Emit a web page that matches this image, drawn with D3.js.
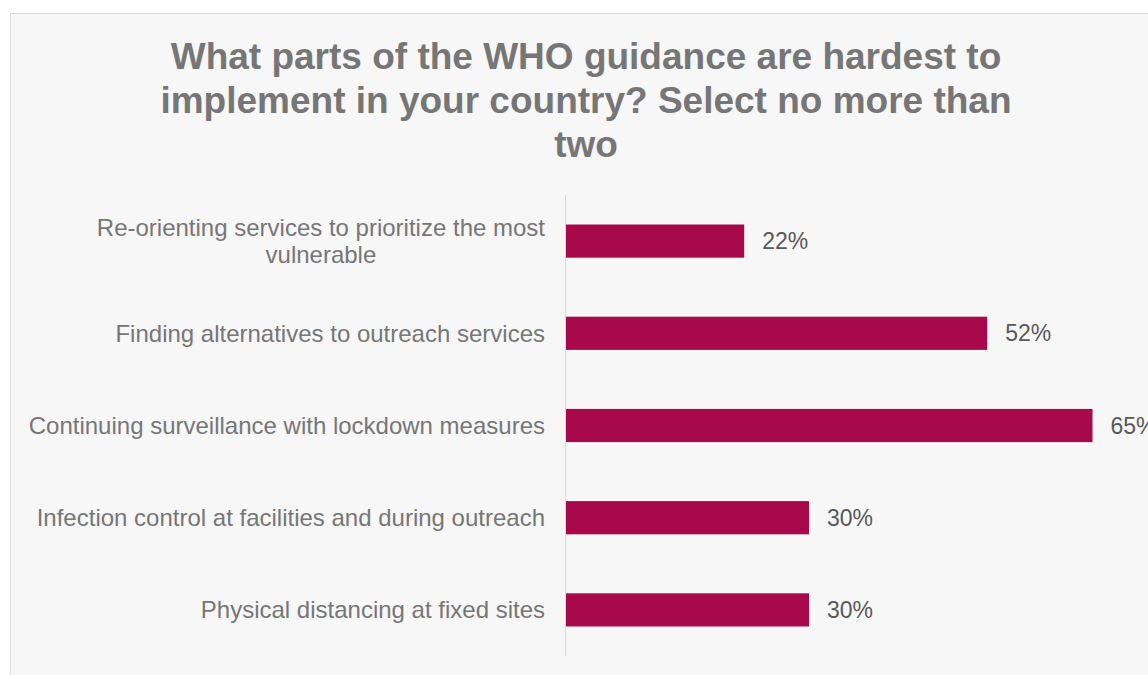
<!DOCTYPE html>
<html lang="en">
<head>
<meta charset="utf-8">
<script src="https://d3js.org/d3.v7.min.js"></script>
<style>
  body { margin: 0; background: #fff; font-family: "Liberation Sans", Arial, sans-serif; }
  svg { display: block; }
</style>
</head>
<body>
<svg class="chart"></svg>
<script>
  // data
  const categories = [
    "Re-orienting services to prioritize the most|vulnerable",
    "Finding alternatives to outreach services",
    "Continuing surveillance with lockdown measures",
    "Infection control at facilities and during outreach",
    "Physical distancing at fixed sites"
  ];
  const values = [0.22, 0.52, 0.65, 0.30, 0.30];
  const titleLines = [
    "What parts of the WHO guidance are hardest to",
    "implement in your country? Select no more than",
    "two"
  ];

  const W = 1148, H = 675;
  const margin = { top: 195, left: 566, bottom: 19, right: 20 };

  const svg = d3.select('.chart')
    .attr('width', W)
    .attr('height', H);

  // chart box
  svg.append('rect')
    .attr('x', 10.5).attr('y', 13.5)
    .attr('width', W).attr('height', H)
    .attr('fill', '#f7f7f7')
    .attr('stroke', '#dcdcdc');

  svg.append('text')
    .attr('text-anchor', 'middle')
    .attr('fill', '#767676')
    .style('font-size', '37px')
    .style('font-weight', 'bold')
    .selectAll('tspan')
    .data(titleLines)
    .join('tspan')
    .attr('x', 586)
    .attr('y', (d, i) => 69 + i * 44)
    .text(d => d);

  const xScale = d3.scaleLinear()
    .domain([0, 0.7])
    .range([margin.left, margin.left + 567]);

  const yScale = d3.scaleBand()
    .domain(categories)
    .range([margin.top, H - margin.bottom])
    .paddingInner(0.64)
    .paddingOuter(0.32);

  // axis line
  svg.append('line')
    .attr('x1', margin.left - 0.5).attr('x2', margin.left - 0.5)
    .attr('y1', margin.top).attr('y2', H - margin.bottom)
    .attr('stroke', '#d9d9d9')
    .attr('stroke-width', 1);

  svg.selectAll('.bars')
    .data(values)
    .join('rect')
    .attr('class', 'bars')
    .attr('x', xScale(0))
    .attr('y', (d, i) => yScale(categories[i]))
    .attr('width', d => xScale(d) - xScale(0))
    .attr('height', yScale.bandwidth())
    .attr('fill', '#a8094b');

  svg.selectAll('.val')
    .data(values)
    .join('text')
    .attr('class', 'val')
    .attr('x', d => xScale(d) + 18)
    .attr('y', (d, i) => yScale(categories[i]) + yScale.bandwidth() / 2)
    .attr('dy', '0.35em')
    .attr('fill', '#595959')
    .style('font-size', '23px')
    .text(d => Math.round(d * 100) + '%');

  // category labels, first one wraps over two lines
  const labels = svg.selectAll('.cat')
    .data(categories)
    .join('text')
    .attr('class', 'cat')
    .attr('fill', '#767676')
    .style('font-size', '24px')
    .attr('text-anchor', 'end');

  labels.each(function (d) {
    const lines = d.split('|');
    const cy = yScale(d) + yScale.bandwidth() / 2;
    const el = d3.select(this);
    if (lines.length === 1) {
      el.attr('x', 545).attr('y', cy).attr('dy', '0.35em').text(d);
    } else {
      el.attr('text-anchor', 'middle');
      el.selectAll('tspan')
        .data(lines)
        .join('tspan')
        .attr('y', (t, i) => cy - 13.5 + 8.4 + i * 27)
        .text(t => t);
      // block right aligned with the others, lines centred in it
      const w = el.select('tspan').node().getComputedTextLength();
      el.selectAll('tspan').attr('x', 545 - w / 2);
    }
  });
</script>
</body>
</html>
